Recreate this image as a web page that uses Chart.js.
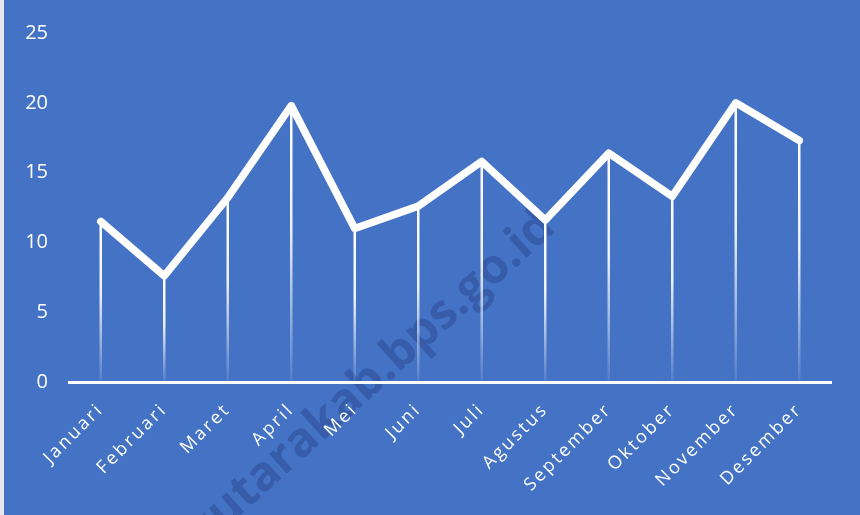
<!DOCTYPE html>
<html><head><meta charset="utf-8">
<script src="https://cdn.jsdelivr.net/npm/chart.js@4.4.0/dist/chart.umd.min.js"></script>
<style>
html,body{margin:0;padding:0;background:#E4E8F0;overflow:hidden;}
#wrap{position:absolute;left:4px;top:0;width:856px;height:515px;}
</style></head><body>
<div id="wrap"><canvas id="c"></canvas></div>
<script>
const categories = ['Januari','Februari','Maret','April','Mei','Juni','Juli','Agustus','September','Oktober','November','Desember'];
const values = [11.5, 7.6, 13.2, 19.8, 11.0, 12.6, 15.8, 11.6, 16.4, 13.3, 20.0, 17.3];
const yTicks = [0, 5, 10, 15, 20, 25];
const watermarkText = 'lombokutarakab.bps.go.id';

const BG = '#4472C4';

const bgPlugin = {
  id: 'bg',
  afterLayout(chart) {
    const s = chart.scales.x;
    if (s && !s._lsPatched) {
      const orig = s.drawLabels.bind(s);
      s.drawLabels = function (area) {
        const c = this.ctx;
        c.save();
        c.letterSpacing = '2.5px';
        orig(area);
        c.restore();
      };
      s._lsPatched = true;
    }
  },
  beforeDraw(chart) {
    const ctx = chart.ctx;
    ctx.save();
    ctx.fillStyle = BG;
    ctx.fillRect(0, 0, chart.width, chart.height);
    // watermark
    ctx.translate(544, 220);
    ctx.rotate(-42 * Math.PI / 180);
    ctx.font = 'bold 48px "Open Sans", "Liberation Sans", sans-serif';
    ctx.textAlign = 'right';
    ctx.textBaseline = 'middle';
    ctx.fillStyle = 'rgba(25,45,110,0.30)';
    ctx.fillText(watermarkText, 0, 0);
    ctx.restore();
  },
  beforeDatasetsDraw(chart) {
    const ctx = chart.ctx;
    const xs = chart.scales.x, ys = chart.scales.y;
    const base = ys.getPixelForValue(0);
    ctx.save();
    values.forEach((v, i) => {
      const x = xs.getPixelForValue(i);
      const y = ys.getPixelForValue(v);
      const g = ctx.createLinearGradient(0, y, 0, base);
      g.addColorStop(0, 'rgba(255,255,255,1)');
      g.addColorStop(0.45, 'rgba(255,255,255,0.9)');
      g.addColorStop(1, 'rgba(255,255,255,0.08)');
      ctx.strokeStyle = g;
      ctx.lineWidth = 2.5;
      ctx.beginPath();
      ctx.moveTo(x, y);
      ctx.lineTo(x, base);
      ctx.stroke();
    });
    ctx.restore();
  }
};

new Chart(document.getElementById('c'), {
  type: 'line',
  data: {
    labels: categories,
    datasets: [{
      data: values,
      borderColor: '#FFFFFF',
      borderWidth: 7.5,
      borderCapStyle: 'round',
      borderJoinStyle: 'round',
      pointRadius: 0,
      pointHoverRadius: 0,
      tension: 0,
      fill: false
    }]
  },
  options: {
    responsive: true,
    maintainAspectRatio: false,
    animation: false,
    events: [],
    layout: { padding: { top: 33, right: 29, left: 0, bottom: 0 } },
    plugins: { legend: { display: false }, tooltip: { enabled: false } },
    scales: {
      x: {
        offset: true,
        grid: { display: false, drawTicks: false },
        border: { display: true, color: '#FFFFFF', width: 3 },
        afterFit(s) { s.height = 133; },
        ticks: {
          color: '#FFFFFF',
          font: { family: '"Open Sans", sans-serif', size: 18 },
          minRotation: 45, maxRotation: 45,
          autoSkip: false,
          padding: 17
        }
      },
      y: {
        min: 0, max: 25,
        afterBuildTicks(s) { s.ticks = yTicks.map(v => ({ value: v })); },
        afterFit(s) { s.width = 65; },
        grid: { display: false, drawTicks: false },
        border: { display: false },
        ticks: {
          color: '#FFFFFF',
          font: { family: '"Open Sans", sans-serif', size: 20 },
          padding: 21
        }
      }
    }
  },
  plugins: [bgPlugin]
});
</script>
</body></html>
